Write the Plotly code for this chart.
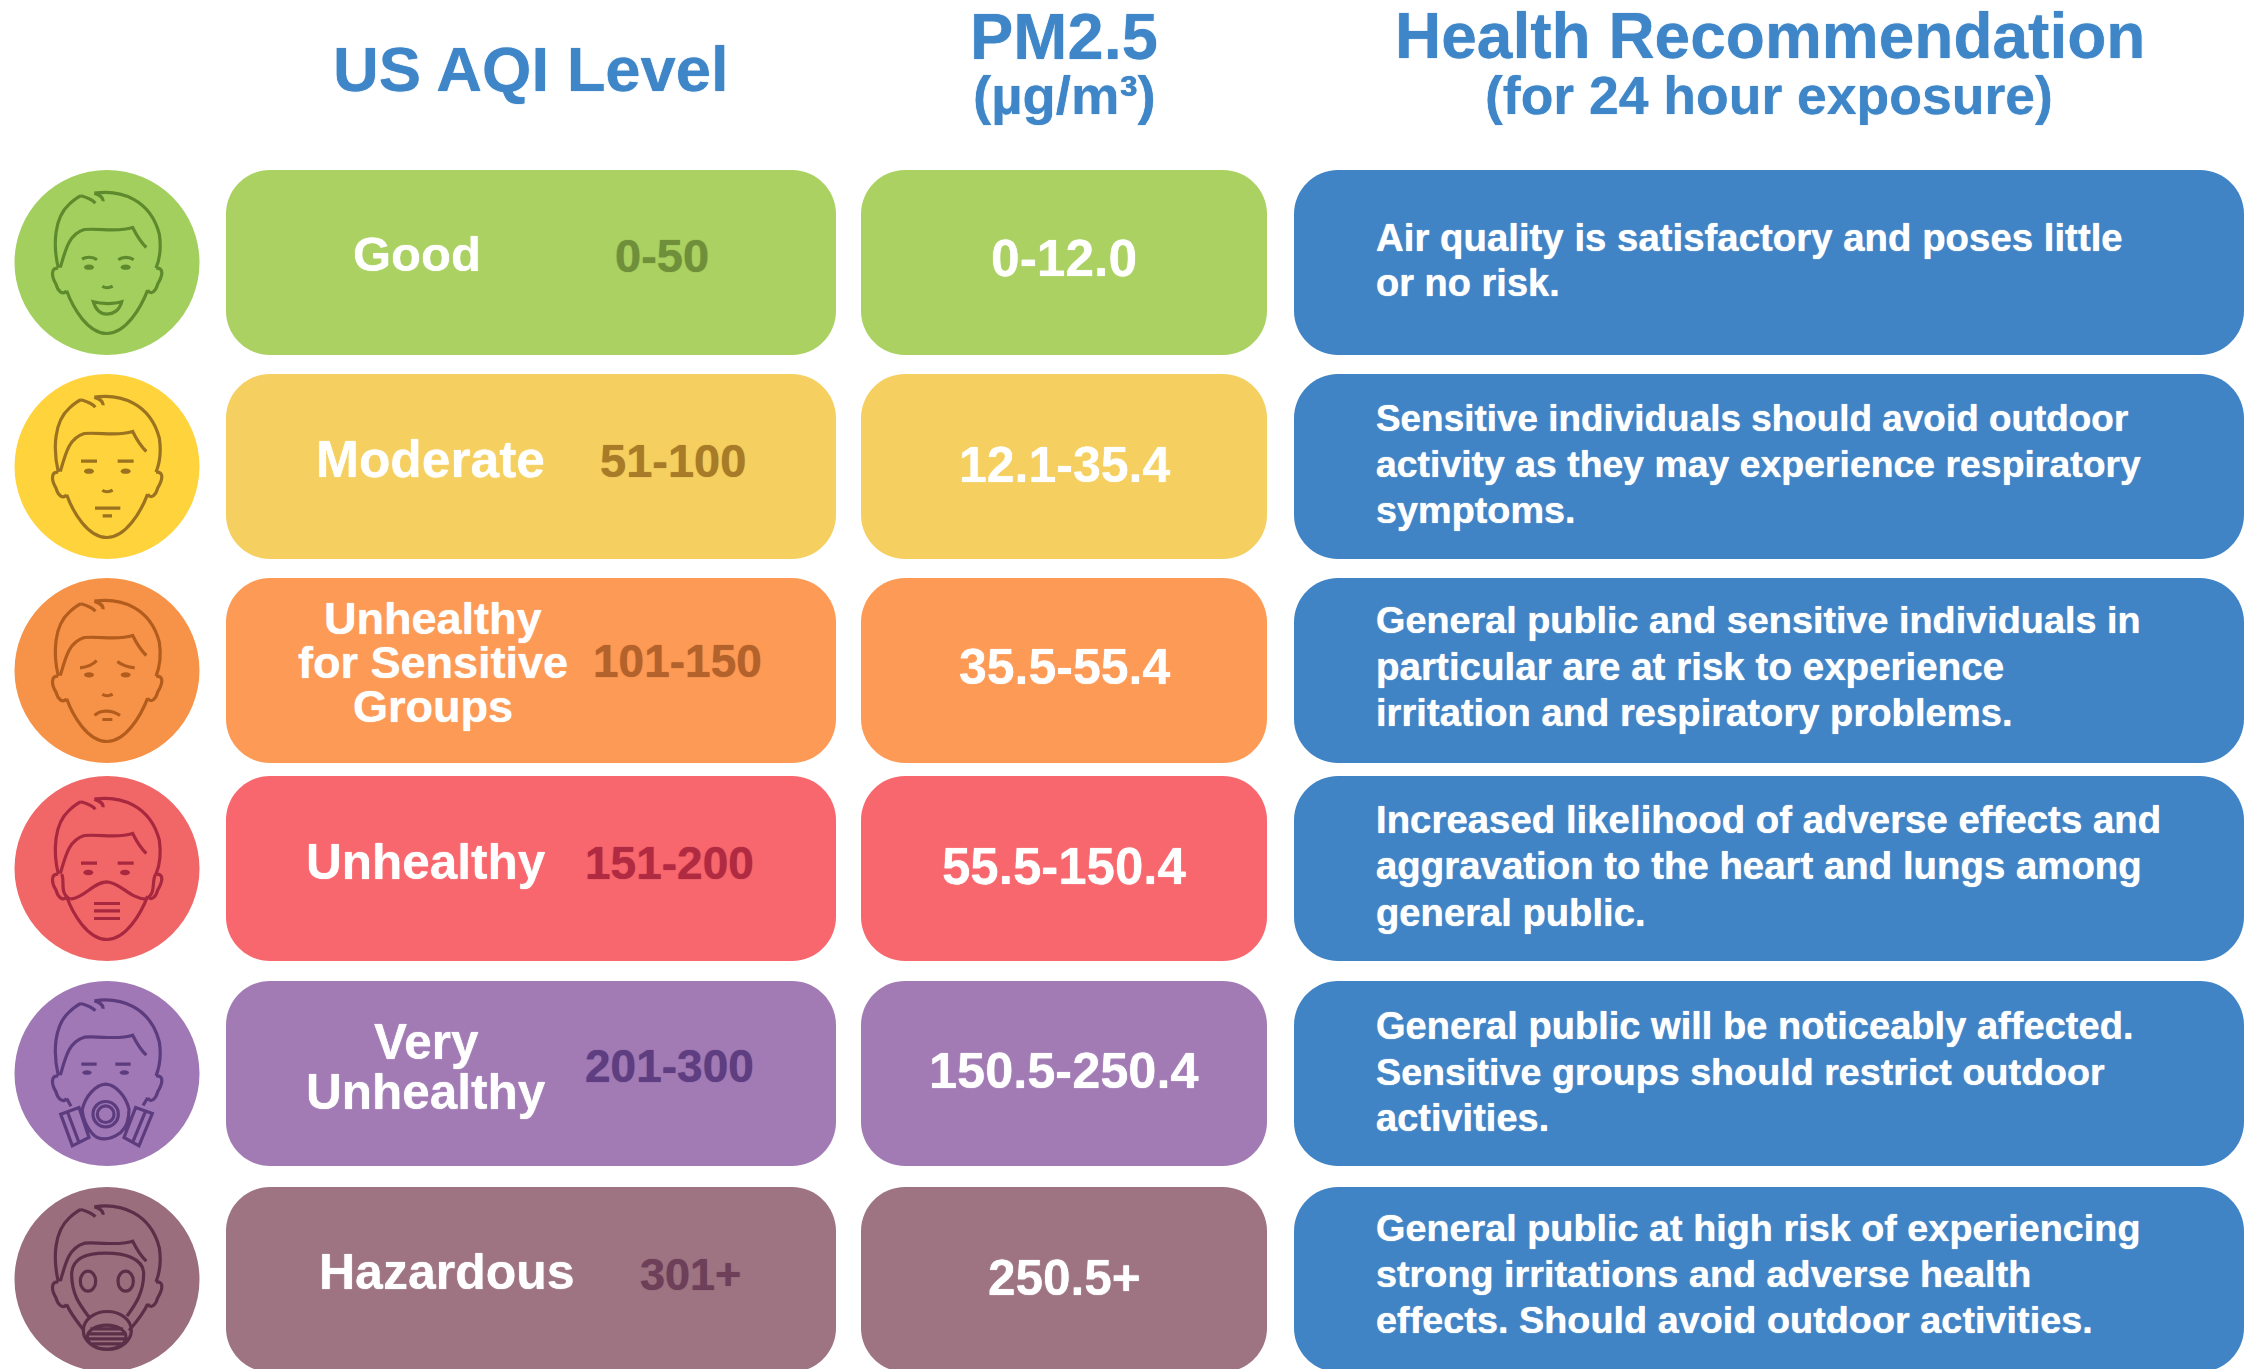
import re
import plotly.graph_objects as go

# ---------- content ----------
headers = ["US AQI Level", "PM2.5", "(µg/m³)", "Health Recommendation", "(for 24 hour exposure)"]
levels = [["Good"], ["Moderate"], ["Unhealthy", "for Sensitive", "Groups"], ["Unhealthy"], ["Very", "Unhealthy"], ["Hazardous"]]
aqi_ranges = ["0-50", "51-100", "101-150", "151-200", "201-300", "301+"]
pm25 = ["0-12.0", "12.1-35.4", "35.5-55.4", "55.5-150.4", "150.5-250.4", "250.5+"]
recommendations = [
    ["Air quality is satisfactory and poses little", "or no risk."],
    ["Sensitive individuals should avoid outdoor", "activity as they may experience respiratory", "symptoms."],
    ["General public and sensitive individuals in", "particular are at risk to experience", "irritation and respiratory problems."],
    ["Increased likelihood of adverse effects and", "aggravation to the heart and lungs among", "general public."],
    ["General public will be noticeably affected.", "Sensitive groups should restrict outdoor", "activities."],
    ["General public at high risk of experiencing", "strong irritations and adverse health", "effects. Should avoid outdoor activities."],
]

# ---------- styles ----------
FONT = "Liberation Sans"
BLUE = "#4084C6"
TITLE_BLUE = "#3F86C8"
box_colors = ["#AAD161", "#F5D060", "#FD9A55", "#F8676D", "#A27BB5", "#9F7482"]
circle_colors = ["#A3CF5E", "#FFD33C", "#F79348", "#F16767", "#9F78B5", "#9A6E7D"]
range_colors = ["#6F8F3A", "#A87B28", "#B4622B", "#B02A42", "#5E3D80", "#6D3F58"]
line_colors = ["#5E8A2E", "#9A7220", "#B25C1E", "#A82840", "#5C3C7E", "#5C2F48"]

# ---------- layout ----------
W, H = 2250, 1369
row_tops = [170, 374, 578, 776, 981, 1187]
row_h = 185
AQI_X = (226, 836)
PM_X = (861, 1267)
REC_X = (1294, 2244)
RAD = 44
CIRCLE_CX, CIRCLE_R = 107, 92.5

level_x = [417, 430, 433, 426, 426, 447]
level_y = [[254], [459], [618, 662, 706], [861], [1041, 1091], [1272]]
level_size = [49, 51.5, 45, 49.5, 49.5, 50]
range_x = [662, 673, 677, 669, 669, 690]
range_y = [255, 460, 661, 863, 1066, 1274]
range_size = [47, 47, 46, 46, 46, 45]
pm_x = 1064
pm_y = [258, 465, 667, 866, 1070, 1277]
pm_size = [51.5, 50, 50, 51, 50.5, 49.5]
rec_x = 1374
rec_y = [[237, 283], [418, 464, 510], [620, 666, 712], [819, 865, 912], [1026, 1072, 1118], [1228, 1274, 1320]]
rec_size = [[38.4, 38], [36.9, 37.4, 37.8], [37.8, 38.6, 38.2], [38.4, 38.4, 38.2], [38.1, 37.7, 38], [37.8, 37.8, 37.85]]
face_dy = [0, 0, 0, 0, -10, -10]
header_pos = [(531, 69, 63.4), (1064, 36, 65), (1064, 95, 54.5), (1770, 36, 64), (1769, 95, 53.5)]

# ---------- icon drawing (units: 1/3 px, relative to circle centre) ----------
HAIR = ("M -146 17 C -163 -55 -158 -135 -113 -175 C -100 -187 -90 -195 -78 -200 "
        "M -78 -200 C -60 -195 -45 -190 -35 -178 "
        "M -38 -208 C -25 -203 -10 -198 -12 -184 "
        "M -38 -208 C 40 -220 130 -190 157 -85 C 163 -45 160 -15 147 17 "
        "M -140 15 C -123 -45 -113 -85 -68 -99 C -18 -103 32 -90 77 -105 C 87 -85 97 -65 118 -45 ")
EARS = ("M -146 17 C -168 15 -168 40 -153 65 C -148 85 -133 100 -121 85 "
        "M 147 17 C 172 15 167 40 152 65 C 147 85 132 100 122 83 ")
JAW = "M -121 85 C -103 135 -58 213 0 213 C 57 213 102 135 122 83 "
NOSE = "M -14 71 C -6 77 7 77 17 71 "
BROWS_FLAT = "M -78 -16 L -30 -16 M 32 -16 L 80 -16 "


def ell(cx, cy, rx, ry):
    k = 0.5523
    return (f"M {cx-rx} {cy} C {cx-rx} {cy-k*ry} {cx-k*rx} {cy-ry} {cx} {cy-ry} "
            f"C {cx+k*rx} {cy-ry} {cx+rx} {cy-k*ry} {cx+rx} {cy} "
            f"C {cx+rx} {cy+k*ry} {cx+k*rx} {cy+ry} {cx} {cy+ry} "
            f"C {cx-k*rx} {cy+ry} {cx-rx} {cy+k*ry} {cx-rx} {cy} Z ")


def eyes(y, lx=-54, rx=56, a=15, b=8):
    return ell(lx, y, a, b), ell(rx, y, a, b)


icon_lines = [
    HAIR + EARS + JAW + NOSE
    + "M -75 -10 C -63 -18 -43 -18 -30 -8 M 34 -8 C 47 -18 67 -18 80 -8 "
    + "M -41 118 C -18 125 22 125 44 118 C 37 145 17 155 0 155 C -18 155 -33 145 -41 118 Z",
    HAIR + EARS + JAW + NOSE + BROWS_FLAT + "M -36 125 L 40 125 M -13 148 L 15 148",
    HAIR + EARS + JAW + NOSE
    + "M -81 -8 C -64 -10 -44 -15 -31 -30 M 31 -27 C 46 -15 66 -10 83 -8 "
    + "M -37 135 C -24 120 11 115 39 135 M -14 147 L 16 147",
    HAIR + EARS + JAW + BROWS_FLAT
    + "M -109 92 C -64 87 -44 42 -1 40 C 41 42 66 89 116 92 "
    + "M -136 17 C -125 40 -145 75 -109 92 M 146 17 C 132 40 150 75 116 92 "
    + "M -39 105 L 39 105 M -39 127 L 39 127 M -39 150 L 39 150",
    HAIR + EARS
    + "M -121 85 L -108 108 M 122 83 L 108 106 ",
    HAIR + EARS
    + "M -121 85 C -108 115 -90 135 -69 163 M 122 83 C 108 115 90 135 66 163 ",
]
# parts drawn in coordinates that do not follow the shifted head
icon_extra = [
    "", "", "", "",
    ("M -4 32 C -34 34 -64 67 -74 107 C -74 142 -49 182 -29 192 C -4 202 21 192 41 177 "
     "C 55 165 66 140 66 107 C 56 67 26 34 -4 32 Z "
     + ell(-4, 122, 38, 38) + ell(-4, 122, 25, 25)
     + "M -139 122 L -84 102 L -54 192 L -104 217 Z M -119 114 L -84 207 "
     + "M 136 120 L 86 102 L 51 192 L 96 217 Z M 116 112 L 76 209 "
     + "M -77 -28 L -31 -28 M 25 -28 L 71 -28"),
    ("M -4 -79 C -59 -79 -104 -67 -106 -17 C -106 43 -84 73 -54 113 "
     "M -4 -79 C 50 -79 110 -65 110 -17 C 110 40 85 75 60 110 "
     + ell(-57, 5, 23, 30) + ell(56, 5, 23, 30)
     + ell(1, 153, 72, 57) + ell(-1, 173, 58, 36)
     + "M -50 148 L 48 148 M -58 163 L 56 163 M -58 178 L 56 178 M -48 193 L 46 193"),
]
icon_eyes = [
    eyes(14), eyes(14), eyes(13), eyes(12, -56, 54),
    eyes(-3, -60, 52, 14, 7), ("", ""),
]


def place(path, cx, cy):
    """Scale an icon path from 1/3 px units to the chart axes around (cx, cy)."""
    def repl(m):
        return f"{cx + float(m.group(1)) / 3:.2f} {cy + float(m.group(2)) / 3:.2f}"
    return re.sub(r"(-?\d+\.?\d*)\s+(-?\d+\.?\d*)", repl, path)


def rounded(x0, x1, y0, y1, r=RAD):
    k = r * 0.45
    return (f"M {x0+r} {y0} L {x1-r} {y0} C {x1-k} {y0} {x1} {y0+k} {x1} {y0+r} "
            f"L {x1} {y1-r} C {x1} {y1-k} {x1-k} {y1} {x1-r} {y1} "
            f"L {x0+r} {y1} C {x0+k} {y1} {x0} {y1-k} {x0} {y1-r} "
            f"L {x0} {y0+r} C {x0} {y0+k} {x0+k} {y0} {x0+r} {y0} Z")


shapes, annos = [], []


def text(t, x, y, size, color, anchor="center"):
    annos.append(dict(text=t, x=x, y=y, xref="x", yref="y", showarrow=False,
                      xanchor=anchor, yanchor="middle",
                      font=dict(family=FONT, size=size, color=color,
                                shadow=f"0 0 1px {color}")))


for t, (x, y, s) in zip(headers, header_pos):
    text(f"<b>{t}</b>", x, y, s, TITLE_BLUE)

for i, top in enumerate(row_tops):
    bottom = top + row_h
    cy = top + row_h / 2
    shapes.append(dict(type="circle", xref="x", yref="y", x0=CIRCLE_CX - CIRCLE_R, x1=CIRCLE_CX + CIRCLE_R,
                       y0=cy - CIRCLE_R, y1=cy + CIRCLE_R, fillcolor=circle_colors[i], line_width=0))
    for (x0, x1), col in ((AQI_X, box_colors[i]), (PM_X, box_colors[i]), (REC_X, BLUE)):
        shapes.append(dict(type="path", path=rounded(x0, x1, top, bottom), xref="x", yref="y",
                           fillcolor=col, line_width=0))
    # face
    shapes.append(dict(type="path", path=place(icon_lines[i], CIRCLE_CX, cy + face_dy[i] / 3),
                       xref="x", yref="y", line=dict(color=line_colors[i], width=3.2)))
    if icon_extra[i]:
        shapes.append(dict(type="path", path=place(icon_extra[i], CIRCLE_CX, cy),
                           xref="x", yref="y", line=dict(color=line_colors[i], width=3.2)))
    for e in icon_eyes[i]:
        if e:
            shapes.append(dict(type="path", path=place(e, CIRCLE_CX, cy), xref="x", yref="y",
                               fillcolor=line_colors[i], line_width=0))
    # texts
    for t, y in zip(levels[i], level_y[i]):
        text(f"<b>{t}</b>", level_x[i], y, level_size[i], "white")
    text(f"<b>{aqi_ranges[i]}</b>", range_x[i], range_y[i], range_size[i], range_colors[i])
    text(f"<b>{pm25[i]}</b>", pm_x, pm_y[i], pm_size[i], "white")
    for t, y, s in zip(recommendations[i], rec_y[i], rec_size[i]):
        text(f"<b>{t}</b>", rec_x, y, s, "white", anchor="left")

fig = go.Figure()
fig.update_layout(
    width=W, height=H, margin=dict(l=0, r=0, t=0, b=0),
    paper_bgcolor="white", plot_bgcolor="white", showlegend=False,
    xaxis=dict(range=[0, W], visible=False, fixedrange=True),
    yaxis=dict(range=[H, 0], visible=False, fixedrange=True),
    shapes=shapes, annotations=annos,
)
fig.write_html("out.html", config=dict(displayModeBar=False),
               post_script="document.body.style.margin='0';document.body.style.overflow='hidden';")
